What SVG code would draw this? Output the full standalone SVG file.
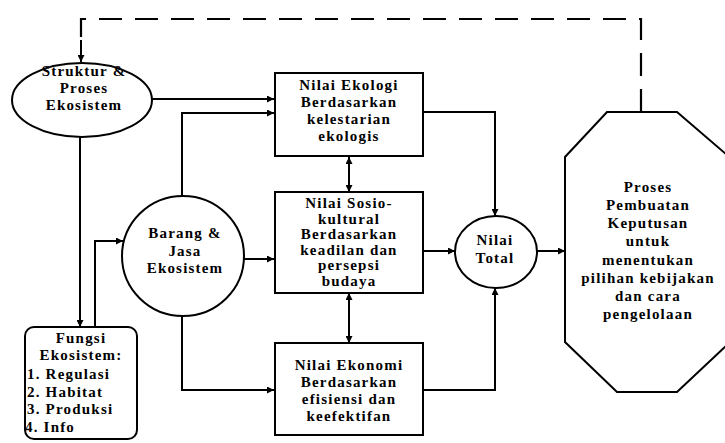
<svg xmlns="http://www.w3.org/2000/svg" width="725" height="443" viewBox="0 0 725 443">
<defs>
<marker id="ah" viewBox="0 0 10 10" refX="10" refY="5" markerWidth="9" markerHeight="7" markerUnits="userSpaceOnUse" orient="auto-start-reverse">
<path d="M0,0 L10,5 L0,10 z" fill="#000"/>
</marker>
<style>
.shape{fill:#fff;stroke:#000;stroke-width:2}
.c{fill:none;stroke:#000;stroke-width:2}
.d{fill:none;stroke:#000;stroke-width:2.2;stroke-dasharray:23 13}
text{font-family:"Liberation Serif","DejaVu Serif",serif;font-size:15px;font-weight:bold;letter-spacing:1.2px;fill:#000;text-anchor:middle}
.l{text-anchor:start}
</style>
</defs>
<rect width="725" height="443" fill="#fff"/>
<g id="connectors">
<path class="d" d="M641 112 V19 H81 V50"/>
<path class="c" d="M81 40 V62" marker-end="url(#ah)"/>
<path class="c" d="M152 99 H274" marker-end="url(#ah)"/>
<path class="c" d="M182 197 V113 H274" marker-end="url(#ah)"/>
<path class="c" d="M349 157 V192" marker-start="url(#ah)" marker-end="url(#ah)"/>
<path class="c" d="M349 293 V343" marker-start="url(#ah)" marker-end="url(#ah)"/>
<path class="c" d="M244 259 H274" marker-end="url(#ah)"/>
<path class="c" d="M182 316 V390 H274" marker-end="url(#ah)"/>
<path class="c" d="M80 137 V327" marker-end="url(#ah)"/>
<path class="c" d="M95 327 V241 H123" marker-end="url(#ah)"/>
<path class="c" d="M423 112 H495 V216" marker-end="url(#ah)"/>
<path class="c" d="M423 251 H455" marker-end="url(#ah)"/>
<path class="c" d="M423 390 H495 V288" marker-end="url(#ah)"/>
<path class="c" d="M537 251 H565" marker-end="url(#ah)"/>
</g>
<g id="struktur">
<ellipse class="shape" cx="82" cy="100" rx="70" ry="37"/>
<text x="84" y="76">Struktur &amp;</text>
<text x="84" y="93">Proses</text>
<text x="84" y="110">Ekosistem</text>
</g>
<g id="ekologi">
<rect class="shape" x="275" y="73" width="148" height="83"/>
<text x="349" y="90">Nilai Ekologi</text>
<text x="349" y="107">Berdasarkan</text>
<text x="349" y="124">kelestarian</text>
<text x="349" y="141">ekologis</text>
</g>
<g id="sosio">
<rect class="shape" x="275" y="192" width="148" height="101"/>
<text x="349" y="208">Nilai Sosio-</text>
<text x="349" y="223.5">kultural</text>
<text x="349" y="239">Berdasarkan</text>
<text x="349" y="254.5">keadilan dan</text>
<text x="349" y="270">persepsi</text>
<text x="349" y="285.5">budaya</text>
</g>
<g id="ekonomi">
<rect class="shape" x="275" y="343" width="148" height="92"/>
<text x="349" y="370">Nilai Ekonomi</text>
<text x="349" y="387">Berdasarkan</text>
<text x="349" y="404">efisiensi dan</text>
<text x="349" y="421">keefektifan</text>
</g>
<g id="barang">
<ellipse class="shape" cx="183" cy="256" rx="61" ry="60"/>
<text x="185" y="238">Barang &amp;</text>
<text x="185" y="256">Jasa</text>
<text x="185" y="273">Ekosistem</text>
</g>
<g id="fungsi">
<rect class="shape" x="25" y="327" width="112" height="112" rx="9"/>
<text x="81" y="343">Fungsi</text>
<text x="81" y="360">Ekosistem:</text>
<text class="l" x="27" y="379">1. Regulasi</text>
<text class="l" x="27" y="397">2. Habitat</text>
<text class="l" x="27" y="414">3. Produksi</text>
<text class="l" x="25" y="432">4. Info</text>
</g>
<g id="total">
<ellipse class="shape" cx="496" cy="252" rx="41" ry="36"/>
<text x="495" y="245">Nilai</text>
<text x="495" y="263">Total</text>
</g>
<g id="keputusan">
<polygon class="shape" points="607,112 677,112 727,155 727,345 677,392 617,392 565,342 565,157"/>
<text x="648" y="192">Proses</text>
<text x="648" y="210">Pembuatan</text>
<text x="648" y="228">Keputusan</text>
<text x="648" y="246">untuk</text>
<text x="648" y="265">menentukan</text>
<text x="648" y="283">pilihan kebijakan</text>
<text x="648" y="301">dan cara</text>
<text x="648" y="319">pengelolaan</text>
</g>
</svg>
